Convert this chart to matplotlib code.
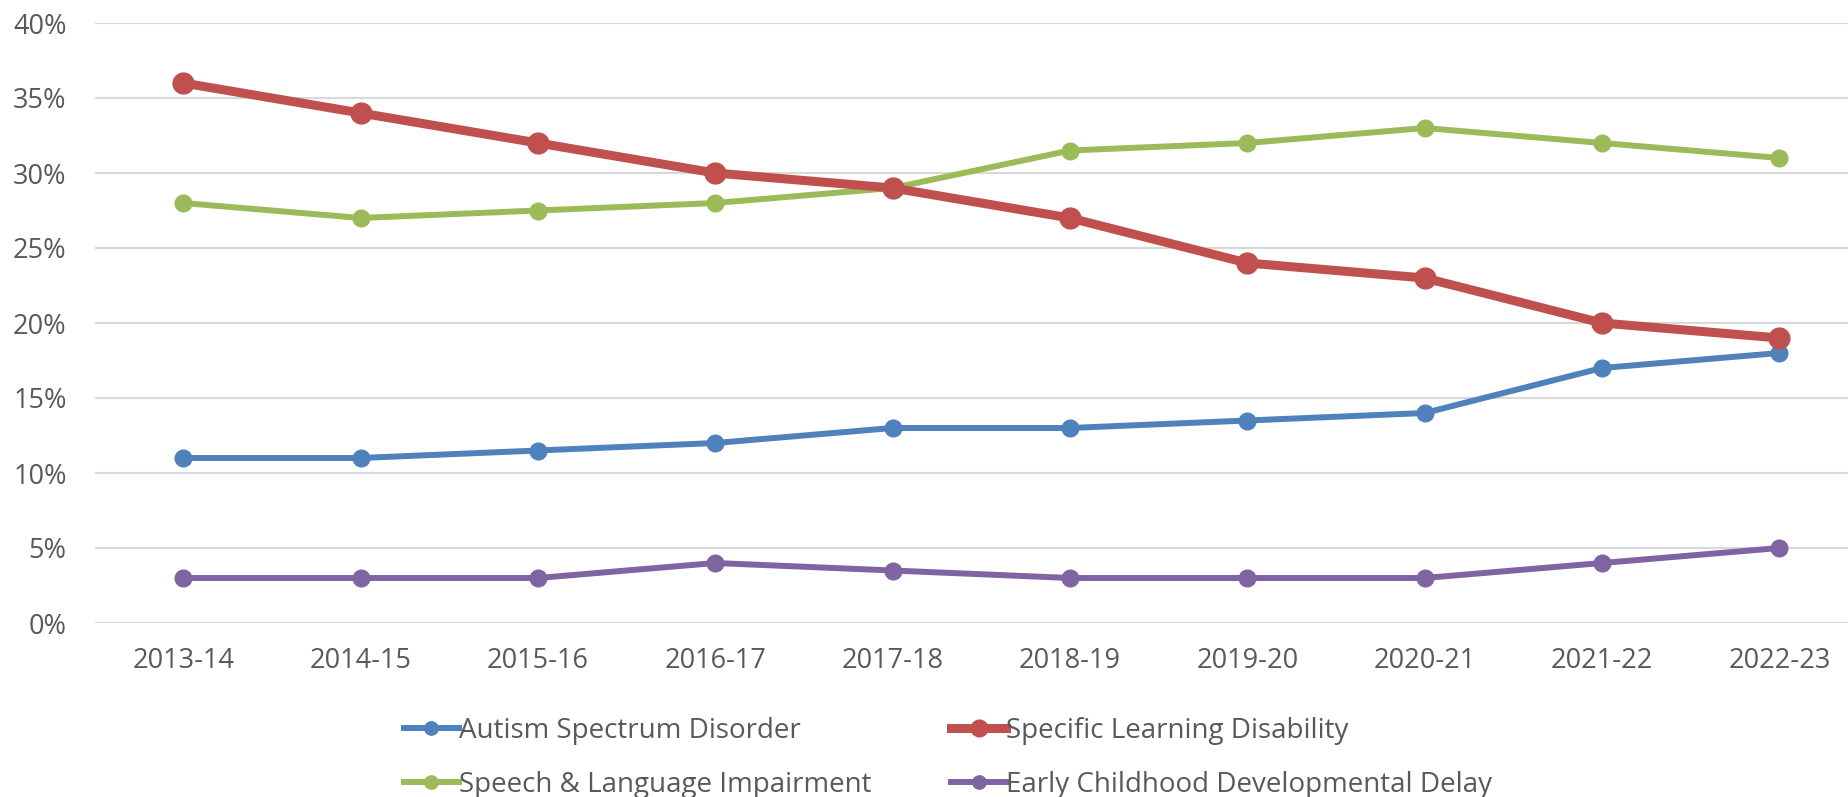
import matplotlib
matplotlib.use("Agg")
import matplotlib.pyplot as plt
from matplotlib.ticker import FuncFormatter, MultipleLocator

years = ["2013-14", "2014-15", "2015-16", "2016-17", "2017-18",
         "2018-19", "2019-20", "2020-21", "2021-22", "2022-23"]
autism = [11, 11, 11.5, 12, 13, 13, 13.5, 14, 17, 18]
sld = [36, 34, 32, 30, 29, 27, 24, 23, 20, 19]
sli = [28, 27, 27.5, 28, 29, 31.5, 32, 33, 32, 31]
ecdd = [3, 3, 3, 4, 3.5, 3, 3, 3, 4, 5]

plt.rcParams['font.family'] = ['Open Sans', 'DejaVu Sans']

W, H = 1849, 797
fig = plt.figure(figsize=(W / 100, H / 100), dpi=100)
left_px, right_px = 94.5, 1868
top_px, bot_px = 23, 623
ax = fig.add_axes([left_px / W, 1 - bot_px / H, (right_px - left_px) / W, (bot_px - top_px) / H])

x = list(range(len(years)))
l1, = ax.plot(x, autism, color="#4F81BD", lw=4.3, marker="o", ms=12, label="Autism Spectrum Disorder", zorder=3)
l2, = ax.plot(x, sld, color="#C0504D", lw=6.5, marker="o", ms=15, label="Specific Learning Disability", zorder=4)
l3, = ax.plot(x, sli, color="#9BBB59", lw=4.3, marker="o", ms=12, label="Speech & Language Impairment", zorder=3)
l4, = ax.plot(x, ecdd, color="#8064A2", lw=4.3, marker="o", ms=12, label="Early Childhood Developmental Delay", zorder=3)

ax.set_xlim(-0.5, len(years) - 0.5)
ax.set_ylim(0, 40)
ax.yaxis.set_major_locator(MultipleLocator(5))
ax.yaxis.set_major_formatter(FuncFormatter(lambda v, p: f"{v:.0f}%"))
ax.set_xticks(x)
ax.set_xticklabels(years)
ax.grid(axis="y", color="#D9D9D9", lw=1.5)
ax.set_axisbelow(True)
for s in ax.spines.values():
    s.set_visible(False)
ax.tick_params(axis="both", length=0, labelsize=19.5, labelcolor="#595959")
ax.tick_params(axis="y", pad=20)
ax.tick_params(axis="x", pad=17)

leg = fig.legend(handles=[l1, l3, l2, l4], ncol=2, loc="center",
                 bbox_to_anchor=(948 / W, 1 - 758 / H), frameon=False,
                 fontsize=20, labelcolor="#595959", handlelength=2.0,
                 handletextpad=0.0, columnspacing=2.85, labelspacing=0.95,
                 markerscale=0.8)
fig.savefig("out.png", dpi=100)
